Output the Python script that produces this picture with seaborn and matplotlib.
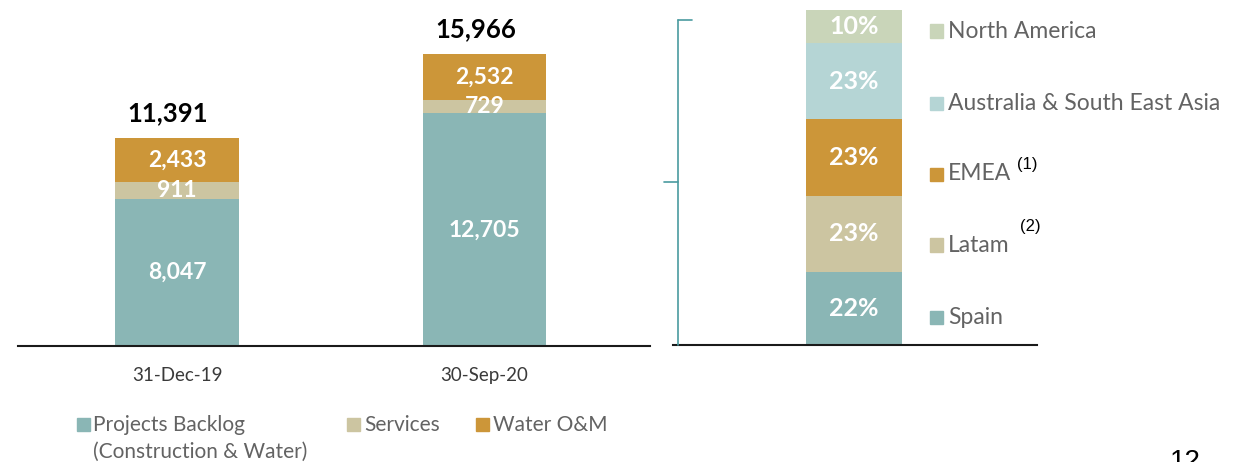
import matplotlib
matplotlib.use("Agg")
import matplotlib.pyplot as plt
import seaborn as sns
import pandas as pd
import numpy as np
from matplotlib.lines import Line2D
from matplotlib.patches import Rectangle

# ---------------- data ----------------
periods = ["31-Dec-19", "30-Sep-20"]
projects_backlog = [8047, 12705]
services = [911, 729]
water_om = [2433, 2532]
totals = [11391, 15966]
series_names = ["Projects Backlog\n(Construction & Water)", "Services", "Water O&M"]

regions = ["Spain", "Latam", "EMEA", "Australia & South East Asia", "North America"]
region_share = [22, 23, 23, 23, 10]
region_notes = ["", "(2)", "(1)", "", ""]
page_number = "12"

# ---------------- style ----------------
sns.set_theme(style="white")
plt.rcParams["font.family"] = ["Lato", "DejaVu Sans"]

C_TEAL = "#8AB6B5"
C_SERV = "#CCC5A1"
C_ORANGE = "#CC9639"
C_NA = "#C9D5B9"
C_AUS = "#B5D5D5"
C_BRACKET = "#4A9BA0"
C_GRAY = "#636363"

W, H = 1258, 462
fig = plt.figure(figsize=(W / 100, H / 100), dpi=100)

def fx(px):
    return px / W

def fy(py):
    return (H - py) / H

# ---------------- left chart ----------------
axL = fig.add_axes([fx(18), fy(346), fx(650) - fx(18), fy(0) - fy(346)])
df = pd.DataFrame({
    "period": periods,
    "backlog": projects_backlog,
    "services": services,
    "water": water_om,
})
df["cum_services"] = df["backlog"] + df["services"]
df["cum_water"] = df["cum_services"] + df["water"]

for col, colr in [("cum_water", C_ORANGE), ("cum_services", C_SERV), ("backlog", C_TEAL)]:
    sns.barplot(data=df, x="period", y=col, color=colr, width=0.4,
                saturation=1, ax=axL, linewidth=0, edgecolor="none")

axL.set_xlim(-0.517, 1.538)
axL.set_ylim(0, 18907)
axL.set_xlabel("")
axL.set_ylabel("")
axL.set_yticks([])
axL.set_xticks([])
for s in ["top", "right", "left"]:
    axL.spines[s].set_visible(False)
axL.spines["bottom"].set_color("#1a1a1a")
axL.spines["bottom"].set_linewidth(1.5)

for i in range(len(periods)):
    b = projects_backlog[i]
    s = services[i]
    w = water_om[i]
    axL.text(i, b / 2, f"{b:,}", ha="center", va="center", color="white",
             fontsize=16.5, fontweight="bold")
    axL.text(i, b + s / 2, f"{s:,}", ha="center", va="center", color="white",
             fontsize=16.5, fontweight="bold")
    axL.text(i, b + s + w / 2, f"{w:,}", ha="center", va="center", color="white",
             fontsize=16.5, fontweight="bold")
    axL.text(i - 0.03, totals[i] + 700, f"{totals[i]:,}", ha="center", va="bottom",
             color="black", fontsize=18.5, fontweight="bold")
    axL.text(i, -1600, periods[i], ha="center", va="center", color="#3a3a3a",
             fontsize=13.5)

# bottom legend (left chart)
leg_items = [(77, C_TEAL, series_names[0]), (347, C_SERV, series_names[1]),
             (476, C_ORANGE, series_names[2])]
for x0, colr, name in leg_items:
    fig.patches.append(Rectangle((fx(x0), fy(431)), fx(13), fy(418) - fy(431),
                                 transform=fig.transFigure, color=colr))
    if "\n" in name:
        fig.text(fx(x0 + 16), fy(415), name, ha="left", va="top",
                 color=C_GRAY, fontsize=15, linespacing=1.4)
    else:
        fig.text(fx(x0 + 17), fy(425), name, ha="left", va="center",
                 color=C_GRAY, fontsize=15)

# ---------------- right chart ----------------
axR = fig.add_axes([fx(673), fy(345), fx(1037) - fx(673), fy(0) - fy(345)])
cum = np.cumsum(region_share)
colors_r = [C_TEAL, C_SERV, C_ORANGE, C_AUS, C_NA]
for k in range(len(regions) - 1, -1, -1):
    sns.barplot(x=["Mix"], y=[cum[k]], color=colors_r[k], width=0.4, saturation=1,
                ax=axR, linewidth=0, edgecolor="none")
axR.set_xlim(-0.754, 0.7625)
axR.set_ylim(0, 104.0)
axR.set_xticks([])
axR.set_yticks([])
axR.set_xlabel("")
axR.set_ylabel("")
for s in ["top", "right", "left"]:
    axR.spines[s].set_visible(False)
axR.spines["bottom"].set_color("#1a1a1a")
axR.spines["bottom"].set_linewidth(1.5)

prev = 0
for k, v in enumerate(region_share):
    axR.text(0, prev + v / 2, f"{v}%", ha="center", va="center", color="white",
             fontsize=18, fontweight="bold")
    prev += v

# right legend
leg_y = [317, 245, 174, 103, 31]
for k, name in enumerate(regions):
    y = leg_y[k]
    fig.patches.append(Rectangle((fx(930), fy(y + 6.5)), fx(13), fy(y - 6.5) - fy(y + 6.5),
                                 transform=fig.transFigure, color=colors_r[k]))
    fig.text(fx(948), fy(y), name, ha="left", va="center", color=C_GRAY, fontsize=16.5)

fig.text(fx(1017), fy(164), region_notes[2], ha="left", va="center", color="black",
         fontsize=12, family=["Liberation Sans", "DejaVu Sans"])
fig.text(fx(1020), fy(226), region_notes[1], ha="left", va="center", color="black",
         fontsize=12, family=["Liberation Sans", "DejaVu Sans"])

# bracket
fig.lines.append(Line2D([fx(678), fx(678)], [fy(20), fy(345)], transform=fig.transFigure,
                        color=C_BRACKET, lw=1.2))
fig.lines.append(Line2D([fx(678), fx(692)], [fy(20), fy(20)], transform=fig.transFigure,
                        color=C_BRACKET, lw=1.2))
fig.lines.append(Line2D([fx(664), fx(678)], [fy(182), fy(182)], transform=fig.transFigure,
                        color=C_BRACKET, lw=1.2))

# page number (cut at the bottom edge, as in the source slide)
fig.text(fx(1185), fy(469), page_number, ha="center", va="baseline", color="black",
         fontsize=20, family=["Liberation Sans", "DejaVu Sans"])

fig.savefig("out.png", dpi=100)
